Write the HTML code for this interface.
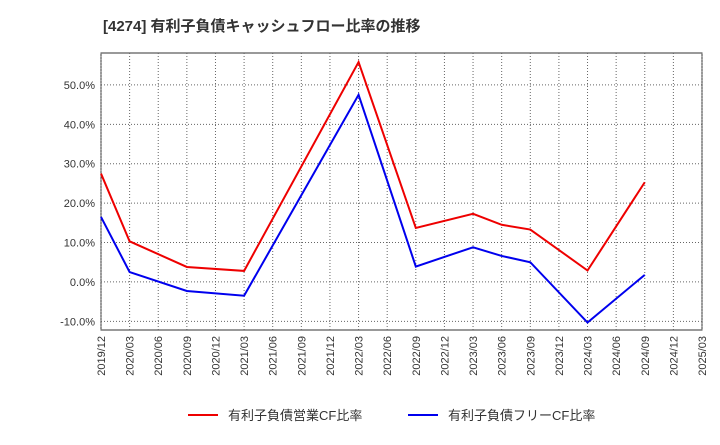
<!DOCTYPE html>
<html><head><meta charset="utf-8"><style>
body{margin:0;background:#fff;}
svg{font-family:"Liberation Sans","Noto Sans CJK JP",sans-serif;}
</style></head><body>
<svg id="c" width="720" height="440">
<text x="103" y="31" font-size="15" font-weight="bold" fill="#333">[4274]  有利子負債キャッシュフロー比率の推移</text>
<rect x="101" y="53" width="601" height="277" fill="#fff" stroke="#333"/>
<g id="grid"></g><g id="lines"></g><g id="axes"></g>
<g>
<line x1="188" y1="415" x2="218" y2="415" stroke="#e00" stroke-width="2"/>
<text x="228" y="420" font-size="13" fill="#333">有利子負債営業CF比率</text>
<line x1="408" y1="415" x2="438" y2="415" stroke="#00e" stroke-width="2"/>
<text x="448" y="420" font-size="13" fill="#333">有利子負債フリーCF比率</text>
</g>
</svg>
<script>
const categories=["2019/12","2020/03","2020/06","2020/09","2020/12","2021/03","2021/06","2021/09","2021/12","2022/03","2022/06","2022/09","2022/12","2023/03","2023/06","2023/09","2023/12","2024/03","2024/06","2024/09","2024/12","2025/03"];
const opIdx=[0,1,3,5,9,11,13,14,15,17,19];
const opValues=[27.5,10.3,3.8,2.8,55.8,13.7,17.3,14.5,13.3,2.9,25.3];
const freeIdx=[0,1,3,5,9,11,13,14,15,17,19];
const freeValues=[16.5,2.5,-2.3,-3.5,47.5,3.9,8.8,6.6,5.0,-10.3,1.8];
const yTicks=[-10,0,10,20,30,40,50];
const NS="http://www.w3.org/2000/svg";
const X0=101,X1=702,Y0=53,Y1=330,YMIN=-12.2,YMAX=58.1;
const xs=i=>X0+(X1-X0)*i/(categories.length-1);
const ys=v=>Y1-(v-YMIN)/(YMAX-YMIN)*(Y1-Y0);
function mk(t,a,p){const e=document.createElementNS(NS,t);for(const k in a)e.setAttribute(k,a[k]);p.appendChild(e);return e;}
const g=document.getElementById('grid'),ax=document.getElementById('axes'),ln=document.getElementById('lines');
categories.forEach((c,i)=>{
 const l=mk('line',{x1:xs(i),x2:xs(i),y1:Y0,y2:Y1,stroke:'#666','stroke-dasharray':'1,2'},g);
 
 
 const t=mk('text',{transform:`translate(${xs(i)+4},${Y1+6}) rotate(-90)`,'font-size':11,fill:'#333','text-anchor':'end'},ax);
 t.textContent=c;
 
 
});
yTicks.forEach(v=>{
 const l=mk('line',{x1:X0,x2:X1,y1:ys(v),y2:ys(v),stroke:'#666','stroke-dasharray':'1,2'},g);
 
 
 const t=mk('text',{x:X0-6,y:ys(v)+4,'font-size':11,fill:'#333','text-anchor':'end'},ax);
 t.textContent=v.toFixed(1)+'%';
 
 
});
function series(idx,vals,col,name){
 const p=mk('polyline',{points:idx.map((i,k)=>xs(i)+','+ys(vals[k])).join(' '),fill:'none',stroke:col,'stroke-width':2},ln);
 
 
}
series(opIdx,opValues,'#e00','operating-cf-ratio-line');
series(freeIdx,freeValues,'#00e','free-cf-ratio-line');
</script>
</body></html>
